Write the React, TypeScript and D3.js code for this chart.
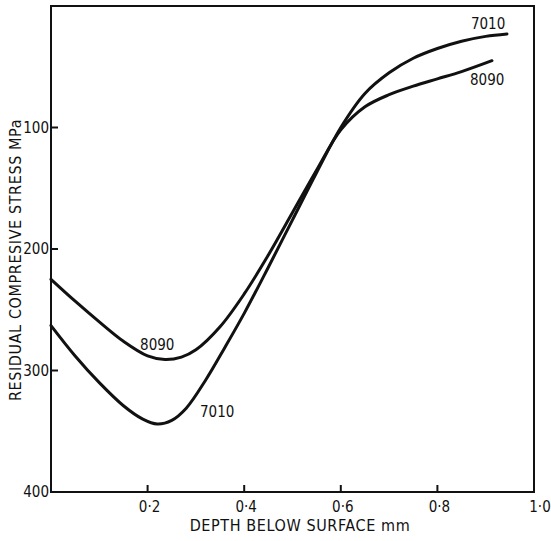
import React, { useEffect, useRef } from 'react';
import * as d3 from 'd3';

// depth (mm) and residual compressive stress (MPa)
const depth8090 = [0, 0.05, 0.1, 0.15, 0.2, 0.236, 0.27, 0.3, 0.35, 0.4, 0.45, 0.5, 0.55, 0.6, 0.65, 0.7, 0.75, 0.8, 0.85, 0.913];
const stress8090 = [225, 243, 260, 276, 288, 291, 289, 283, 264, 237, 205, 170, 135, 102, 83, 73, 66, 60, 54, 45];

const depth7010 = [0, 0.05, 0.1, 0.15, 0.19, 0.22, 0.25, 0.28, 0.32, 0.36, 0.4, 0.45, 0.5, 0.55, 0.6, 0.65, 0.7, 0.75, 0.8, 0.85, 0.9, 0.944];
const stress7010 = [263, 288, 310, 329, 340, 344, 341, 331, 308, 281, 253, 215, 176, 137, 100, 72, 55, 43, 35, 29, 25, 23];

const xTicks = [0.2, 0.4, 0.6, 0.8, 1.0];
const yTicks = [100, 200, 300];

const seriesLabels = [
  { name: '8090', x: 0.22, y: 279 },
  { name: '7010', x: 0.344, y: 334 },
  { name: '7010', x: 0.905, y: 15 },
  { name: '8090', x: 0.903, y: 61 },
];

const App = () => {
  const svgRef = useRef<SVGSVGElement>(null);

  useEffect(() => {
    const svg = d3.select(svgRef.current);
    svg.selectAll('*').remove();

    const left = 51, right = 534, top = 6, bottom = 492;
    const font = '"DejaVu Sans Condensed", "DejaVu Sans", sans-serif';

    const x = d3.scaleLinear().domain([0, 1]).range([left, right]);
    const y = d3.scaleLinear().domain([0, 400]).range([top, bottom]);
    const fmt = (d: number) => d.toFixed(1).replace('.', '\u00b7');

    // frame
    svg.append('rect')
      .attr('x', left).attr('y', top)
      .attr('width', right - left).attr('height', bottom - top)
      .attr('fill', 'none').attr('stroke', '#111').attr('stroke-width', 2);

    // x ticks (inward)
    svg.selectAll('.xt').data(xTicks.filter(d => d < 1)).enter().append('line')
      .attr('x1', d => x(d)).attr('x2', d => x(d))
      .attr('y1', bottom).attr('y2', bottom - 7)
      .attr('stroke', '#111').attr('stroke-width', 2);
    svg.selectAll('.xl').data(xTicks).enter().append('text')
      .attr('x', d => x(d) + (d === 1 ? 6 : 2)).attr('y', bottom + 20)
      .attr('text-anchor', 'middle')
      .style('font-family', font).style('font-size', '15px').style('fill', '#111')
      .text(d => fmt(d));

    // y ticks (inward)
    svg.selectAll('.yt').data(yTicks).enter().append('line')
      .attr('x1', left).attr('x2', left + 7)
      .attr('y1', d => y(d)).attr('y2', d => y(d))
      .attr('stroke', '#111').attr('stroke-width', 2);
    svg.selectAll('.yl').data([...yTicks, 400]).enter().append('text')
      .attr('x', left - 2).attr('y', d => y(d)).attr('dy', '0.35em')
      .attr('text-anchor', 'end')
      .style('font-family', font).style('font-size', '15px').style('fill', '#111')
      .text(d => d);

    // axis titles
    svg.append('text')
      .attr('x', 300).attr('y', 531).attr('text-anchor', 'middle')
      .style('font-family', font).style('font-size', '16px').style('fill', '#111')
      .style('letter-spacing', '0.6px')
      .text('DEPTH  BELOW  SURFACE mm');
    svg.append('text')
      .attr('transform', `translate(21,260) rotate(-90)`).attr('text-anchor', 'middle')
      .style('font-family', font).style('font-size', '16px').style('fill', '#111')
      .style('letter-spacing', '0.6px')
      .text('RESIDUAL  COMPRESIVE  STRESS MPa');

    // curves
    const line = d3.line<[number, number]>()
      .x(d => x(d[0])).y(d => y(d[1]))
      .curve(d3.curveCatmullRom.alpha(0.5));
    const series = [
      d3.zip(depth8090, stress8090) as [number, number][],
      d3.zip(depth7010, stress7010) as [number, number][],
    ];
    svg.selectAll('.curve').data(series).enter().append('path')
      .attr('d', d => line(d))
      .attr('fill', 'none').attr('stroke', '#111').attr('stroke-width', 3)
      .attr('stroke-linecap', 'round');

    // series labels
    svg.selectAll('.sl').data(seriesLabels).enter().append('text')
      .attr('x', d => x(d.x)).attr('y', d => y(d.y)).attr('dy', '0.35em')
      .attr('text-anchor', 'middle')
      .style('font-family', font).style('font-size', '15px').style('fill', '#111')
      .text(d => d.name);
  }, []);

  return (
    <svg ref={svgRef} width={551} height={541}
      style={{ position: 'absolute', left: 0, top: 0, background: '#fff' }} />
  );
};

export default App;
